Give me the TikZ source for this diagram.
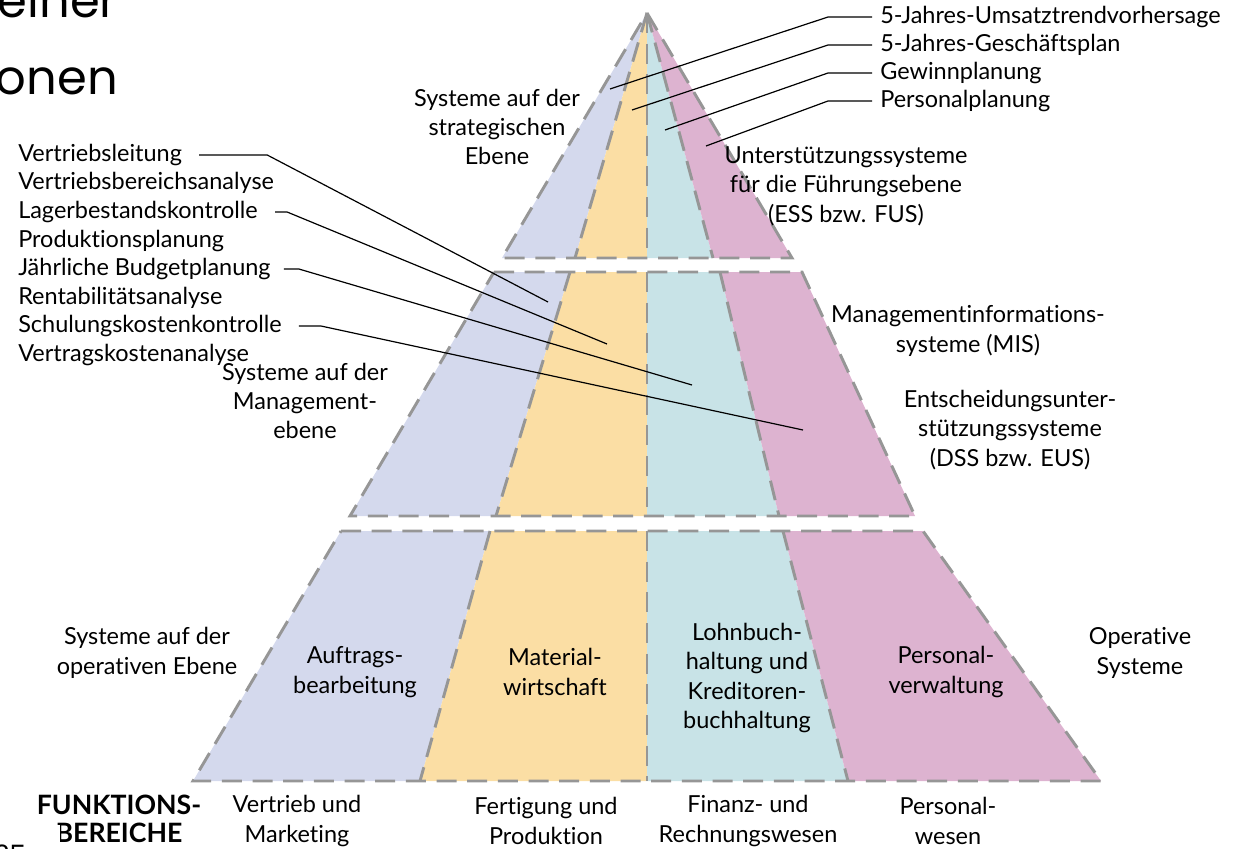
\documentclass[tikz,border=0pt]{standalone}
\usepackage{fontspec}
\setmainfont{Lato}[Ligatures=NoCommon, Contextuals=NoAlternate]
\newfontfamily\titlefont{Poppins}
\definecolor{cLav}{RGB}{212,217,237}
\definecolor{cYel}{RGB}{251,222,164}
\definecolor{cTeal}{RGB}{200,227,231}
\definecolor{cPink}{RGB}{221,179,208}
\definecolor{dashgray}{RGB}{150,150,150}
\begin{document}
\begin{tikzpicture}[x=0.75pt,y=-0.75pt,
  lbl/.style={inner sep=0pt, font=\fontsize{17.6pt}{22pt}\selectfont},
  blk/.style={lbl, align=center},
  conn/.style={draw=black, line width=0.9pt, line join=round},
  tierline/.style={draw=dashgray, line width=2.2pt, dash pattern=on 15pt off 8pt},
]
\useasboundingbox (0,0) rectangle (1233,849);
\clip (0,0) rectangle (1233,849);

% ---------- pyramid geometry ----------
\coordinate (apex) at (647,13);
% strategic tier, lower edge
\coordinate (tL) at (502,258);
\coordinate (tY) at (575,258);
\coordinate (tC) at (647,258);
\coordinate (tP) at (713,258);
\coordinate (tR) at (792,258);
% management tier
\coordinate (mL1) at (494,272);
\coordinate (mY1) at (570,272);
\coordinate (mC1) at (647,272);
\coordinate (mP1) at (720,272);
\coordinate (mR1) at (802,272);
\coordinate (mL2) at (350,516);
\coordinate (mY2) at (496,516);
\coordinate (mC2) at (647,516);
\coordinate (mP2) at (779,516);
\coordinate (mR2) at (915,516);
% operative tier
\coordinate (bL1) at (341,531);
\coordinate (bY1) at (490,531);
\coordinate (bC1) at (647,531);
\coordinate (bP1) at (783,531);
\coordinate (bR1) at (923,531);
\coordinate (bL2) at (193,781);
\coordinate (bY2) at (420,781);
\coordinate (bC2) at (647,781);
\coordinate (bP2) at (848,781);
\coordinate (bR2) at (1101,781);

% ---------- coloured segments ----------
\fill[cLav]  (apex) -- (tL) -- (tY) -- cycle;
\fill[cYel]  (apex) -- (tY) -- (tC) -- cycle;
\fill[cTeal] (apex) -- (tC) -- (tP) -- cycle;
\fill[cPink] (apex) -- (tP) -- (tR) -- cycle;

\fill[cLav]  (mL1) -- (mY1) -- (mY2) -- (mL2) -- cycle;
\fill[cYel]  (mY1) -- (mC1) -- (mC2) -- (mY2) -- cycle;
\fill[cTeal] (mC1) -- (mP1) -- (mP2) -- (mC2) -- cycle;
\fill[cPink] (mP1) -- (mR1) -- (mR2) -- (mP2) -- cycle;

\fill[cLav]  (bL1) -- (bY1) -- (bY2) -- (bL2) -- cycle;
\fill[cYel]  (bY1) -- (bC1) -- (bC2) -- (bY2) -- cycle;
\fill[cTeal] (bC1) -- (bP1) -- (bP2) -- (bC2) -- cycle;
\fill[cPink] (bP1) -- (bR1) -- (bR2) -- (bP2) -- cycle;

% ---------- dashed dividers and outlines ----------
\draw[tierline] (apex) -- (tY);
\draw[tierline] (apex) -- (tC);
\draw[tierline] (apex) -- (tP);
\draw[tierline] (apex) -- (tR) -- (tL) -- cycle;

\draw[tierline] (mY1) -- (mY2);
\draw[tierline] (mC1) -- (mC2);
\draw[tierline] (mP1) -- (mP2);
\draw[tierline] (mL1) -- (mR1) -- (mR2) -- (mL2) -- cycle;

\draw[tierline] (bY1) -- (bY2);
\draw[tierline] (bC1) -- (bC2);
\draw[tierline] (bP1) -- (bP2);
\draw[tierline] (bL1) -- (bR1) -- (bR2) -- (bL2) -- cycle;

% ---------- heading fragments ----------
\node[inner sep=0pt, anchor=base east, font=\titlefont\fontsize{36pt}{36pt}\selectfont] (head1) at (118,18) {einer};
\node[inner sep=0pt, anchor=base east, font=\titlefont\fontsize{36pt}{36pt}\selectfont] (head2) at (118,95) {onen};

% ---------- tier labels ----------
\node[blk] (strat) at (497,127) {Systeme auf der\\strategischen\\Ebene};
\node[blk] (ess) at (846,186) {Unterstützungssysteme\\für die Führungsebene\\(ESS bzw. FUS)};
\node[blk] (mis) at (968,331) {Managementinformations-\\systeme (MIS)};
\node[blk] (dss) at (1010,430) {Entscheidungsunter-\\stützungssysteme\\(DSS bzw. EUS)};
\node[blk] (mgmt) at (305,401) {Systeme auf der\\Management-\\ebene};
\node[blk] (oper) at (147,653) {Systeme auf der\\operativen Ebene};
\node[blk] (opsys) at (1140,653) {Operative\\Systeme};

\node[blk] (auftrag) at (355,672) {Auftrags-\\bearbeitung};
\node[blk] (material) at (555,672) {Material-\\wirtschaft};
\node[blk] (lohn) at (747,678) {Lohnbuch-\\haltung und\\Kreditoren-\\buchhaltung};
\node[blk] (personalv) at (946,672) {Personal-\\verwaltung};

% ---------- functional areas ----------
\node[blk, font=\bfseries\fontsize{20pt}{21pt}\selectfont] (funk) at (119,819) {FUNKTIONS-\\BEREICHE};
\node[blk] (vertrieb) at (297,821) {Vertrieb und\\Marketing};
\node[blk] (fertigung) at (546,821) {Fertigung und\\Produktion};
\node[blk] (finanz) at (748,821) {Finanz- und\\Rechnungswesen};
\node[blk] (personalw) at (948,821) {Personal-\\wesen};

% page corner
\fill[white] (0,825) rectangle (60,849);
\node[inner sep=0pt, anchor=base west, font=\titlefont\fontsize{20pt}{20pt}\selectfont] (pageno) at (-6,864) {25};

% ---------- example applications, management level ----------
\node[lbl, anchor=west] (l1) at (18,155) {Vertriebsleitung};
\node[lbl, anchor=west] (l2) at (18,183) {Vertriebsbereichsanalyse};
\node[lbl, anchor=west] (l3) at (18,212) {Lagerbestandskontrolle};
\node[lbl, anchor=west] (l4) at (18,241) {Produktionsplanung};
\node[lbl, anchor=west] (l5) at (18,269) {Jährliche Budgetplanung};
\node[lbl, anchor=west] (l6) at (18,298) {Rentabilitätsanalyse};
\node[lbl, anchor=west] (l7) at (18,326) {Schulungskostenkontrolle};
\node[lbl, anchor=west] (l8) at (18,355) {Vertragskostenanalyse};

\coordinate (e1) at (548,302);
\coordinate (e2) at (607,344);
\coordinate (e3) at (692,385);
\coordinate (e4) at (803,430);

\draw[conn] (l1.east) ++(17,0) -- ++(68,0) -- (e1);
\draw[conn] (l3.east) ++(17,0) -- ++(12,0) -- (e2);
\draw[conn] (l5.east) ++(13,0) -- ++(15,0) -- (e3);
\draw[conn] (l7.east) ++(17,0) -- ++(22,0) -- (e4);

% ---------- example applications, strategic level ----------
\node[lbl, anchor=west] (r1) at (880,17) {5-Jahres-Umsatztrendvorhersage};
\node[lbl, anchor=west] (r2) at (880,45) {5-Jahres-Geschäftsplan};
\node[lbl, anchor=west] (r3) at (880,73) {Gewinnplanung};
\node[lbl, anchor=west] (r4) at (880,101) {Personalplanung};

\coordinate (f1) at (610,89);
\coordinate (f2) at (632,110);
\coordinate (f3) at (665,130);
\coordinate (f4) at (706,146);

\draw[conn] (r1.west) ++(-8,0) -- ++(-44,0) -- (f1);
\draw[conn] (r2.west) ++(-8,0) -- ++(-44,0) -- (f2);
\draw[conn] (r3.west) ++(-8,0) -- ++(-44,0) -- (f3);
\draw[conn] (r4.west) ++(-8,0) -- ++(-44,0) -- (f4);
\end{tikzpicture}
\end{document}
